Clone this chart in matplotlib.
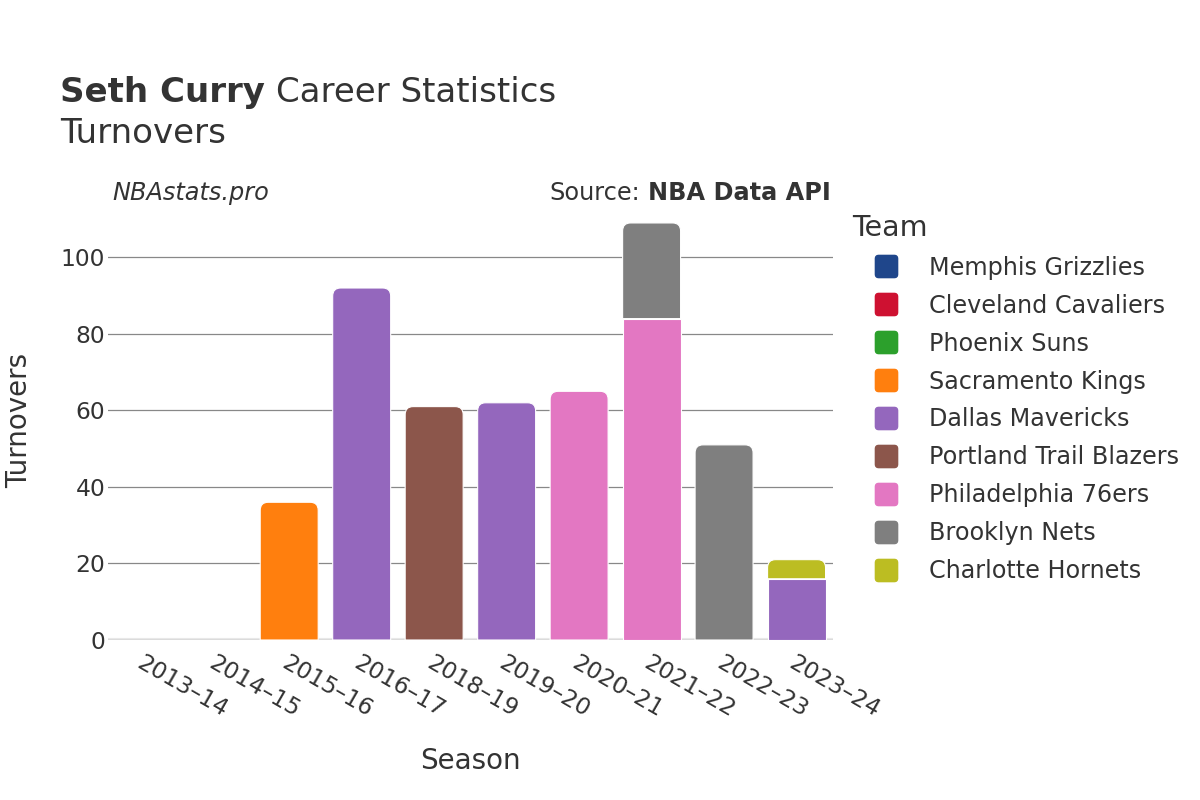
import matplotlib
matplotlib.use('Agg')
import matplotlib.pyplot as plt
from matplotlib.path import Path
from matplotlib.patches import PathPatch
from matplotlib.lines import Line2D
import numpy as np

seasons = ['2013–14', '2014–15', '2015–16', '2016–17', '2018–19',
           '2019–20', '2020–21', '2021–22', '2022–23', '2023–24']
teams = ['Memphis Grizzlies', 'Cleveland Cavaliers', 'Phoenix Suns',
         'Sacramento Kings', 'Dallas Mavericks', 'Portland Trail Blazers',
         'Philadelphia 76ers', 'Brooklyn Nets', 'Charlotte Hornets']
colors = ['#1f468b', '#ce1131', '#2ca02c', '#ff7f0e', '#9467bd',
          '#8c564b', '#e377c2', '#7f7f7f', '#bcbd22']

# turnovers per season, one list per team (stacked in this order)
memphis = [0, 0, 0, 0, 0, 0, 0, 0, 0, 0]
cleveland = [0, 0, 0, 0, 0, 0, 0, 0, 0, 0]
phoenix = [0, 0, 0, 0, 0, 0, 0, 0, 0, 0]
sacramento = [0, 0, 36, 0, 0, 0, 0, 0, 0, 0]
dallas = [0, 0, 0, 92, 0, 62, 0, 0, 0, 16]
portland = [0, 0, 0, 0, 61, 0, 0, 0, 0, 0]
philly = [0, 0, 0, 0, 0, 0, 65, 84, 0, 0]
brooklyn = [0, 0, 0, 0, 0, 0, 0, 25, 51, 0]
charlotte = [0, 0, 0, 0, 0, 0, 0, 0, 0, 5]
values = [memphis, cleveland, phoenix, sacramento, dallas, portland,
          philly, brooklyn, charlotte]

txt = '#333333'
fig = plt.figure(figsize=(12, 8), dpi=100)
ax = fig.add_axes([0.09, 0.2, 0.604, 0.55])

width = 0.8
ymax = 115
rx, ry = 0.11, 2.1  # corner radius in data units (~8px)


def bar_path(x0, x1, y0, y1, round_top):
    if not round_top or y1 - y0 < ry:
        verts = [(x0, y0), (x0, y1), (x1, y1), (x1, y0), (x0, y0)]
        codes = [Path.MOVETO] + [Path.LINETO] * 3 + [Path.CLOSEPOLY]
        return Path(verts, codes)
    verts = [(x0, y0), (x0, y1 - ry), (x0, y1), (x0 + rx, y1),
             (x1 - rx, y1), (x1, y1), (x1, y1 - ry), (x1, y0), (x0, y0)]
    codes = [Path.MOVETO, Path.LINETO, Path.CURVE3, Path.CURVE3,
             Path.LINETO, Path.CURVE3, Path.CURVE3, Path.LINETO, Path.CLOSEPOLY]
    return Path(verts, codes)


vals = np.array(values, dtype=float)
totals = vals.sum(axis=0)
bottom = np.zeros(len(seasons))
for ti, col in enumerate(colors):
    for si in range(len(seasons)):
        v = vals[ti, si]
        if v <= 0:
            continue
        y0 = bottom[si]
        y1 = y0 + v
        top = np.isclose(y1, totals[si])
        p = bar_path(si - width / 2, si + width / 2, y0, y1, top)
        ax.add_patch(PathPatch(p, facecolor=col, edgecolor='white', lw=0.8, zorder=3))
    bottom += vals[ti]

ax.set_xlim(-0.5, len(seasons) - 0.5)
ax.set_ylim(0, ymax)
ax.set_yticks([0, 20, 40, 60, 80, 100])
ax.set_xticks(range(len(seasons)))
ax.set_xticklabels(seasons, rotation=-30, ha='left', rotation_mode='anchor')
ax.grid(axis='y', color='#888888', lw=0.9, zorder=0)
ax.axhline(0, color='#e8e8e8', lw=3, zorder=1)
for s in ax.spines.values():
    s.set_visible(False)
ax.tick_params(length=0, labelsize=16.8, colors=txt, pad=2)
ax.tick_params(axis='x', pad=8)
ax.set_xlabel('Season', fontsize=20, color=txt, labelpad=18)
ax.set_ylabel('Turnovers', fontsize=20, color=txt, labelpad=20)

# title: bold name followed by regular text
fig.canvas.draw()
r = fig.canvas.get_renderer()
t1 = fig.text(0.05, 0.8725, 'Seth Curry', fontsize=24.5, color=txt,
              fontweight='bold', va='baseline')
bb = t1.get_window_extent(r)
fig.text(bb.x1 / 1200 + 0.009, 0.8725, 'Career Statistics', fontsize=24.5,
         color=txt, va='baseline')
fig.text(0.05, 0.821, 'Turnovers', fontsize=24.5, color=txt, va='baseline')

fig.text(0.094, 0.75, 'NBAstats.pro', fontsize=17.3, color=txt, style='italic', va='baseline')
t2 = fig.text(0.692, 0.75, 'NBA Data API', fontsize=17.3, color=txt,
              fontweight='bold', ha='right', va='baseline')
bb2 = t2.get_window_extent(r)
fig.text(bb2.x0 / 1200 - 0.006, 0.75, 'Source:', fontsize=17.3, color=txt,
         ha='right', va='baseline')

# rounded square legend marker
k = 0.3
sq = Path([(-1 + k, -1), (1 - k, -1), (1, -1), (1, -1 + k), (1, 1 - k), (1, 1),
           (1 - k, 1), (-1 + k, 1), (-1, 1), (-1, 1 - k), (-1, -1 + k), (-1, -1),
           (-1 + k, -1), (-1 + k, -1)],
          [Path.MOVETO, Path.LINETO, Path.CURVE3, Path.CURVE3, Path.LINETO,
           Path.CURVE3, Path.CURVE3, Path.LINETO, Path.CURVE3, Path.CURVE3,
           Path.LINETO, Path.CURVE3, Path.CURVE3, Path.CLOSEPOLY])
handles = [Line2D([0], [0], marker=sq, linestyle='none', markersize=16,
                  markerfacecolor=c, markeredgecolor=c) for c in colors]
leg = fig.legend(handles, teams, loc='upper left', bbox_to_anchor=(0.7097, 0.733),
                 frameon=False, fontsize=17.2, title='Team', title_fontsize=20.5,
                 labelspacing=0.585, handlelength=2.85, handletextpad=0.4,
                 borderpad=0, borderaxespad=0, alignment='left')
for t in leg.get_texts():
    t.set_color(txt)
leg.get_title().set_color(txt)

fig.savefig('out.png', dpi=100)
